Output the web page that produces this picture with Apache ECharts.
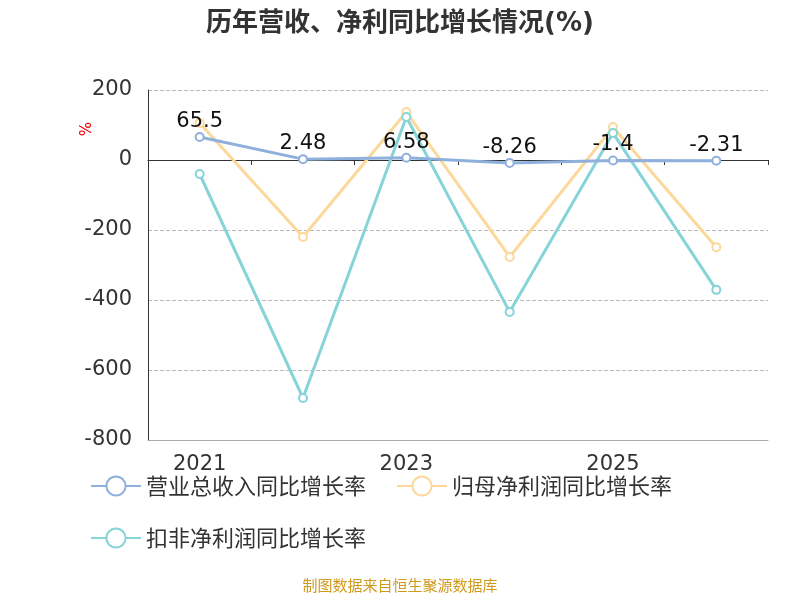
<!DOCTYPE html>
<html><head><meta charset="utf-8">
<script src="https://cdn.jsdelivr.net/npm/echarts@6/dist/echarts.min.js"></script>
<style>html,body{margin:0;padding:0}#c{width:800px;height:600px}</style>
</head><body><div id="c"></div>
<script>
const categories = ['2021','2022','2023','2024','2025','2026H1'];
const revenue = [65.5, 2.48, 6.58, -8.26, -1.4, -2.31];
const netProfit = [106, -220, 137, -277, 94, -249];
const deductedProfit = [-40, -680, 123, -434, 77, -371];
const yTicks = {min: -800, max: 200, interval: 200};

const chart = echarts.init(document.getElementById('c'));
const font = 'DejaVu Sans, Noto Sans CJK SC';
chart.setOption({
  textStyle: {fontFamily: font},
  title: {text: '历年营收、净利同比增长情况(%)', left: 'center', top: 6,
    textStyle: {fontSize: 26, fontWeight: 'bold', color: '#333', fontFamily: font}},
  graphic: [
    {type: 'text', left: 'center', top: 578,
      style: {text: '制图数据来自恒生聚源数据库', fill: '#d09a1c', fontSize: 15, fontFamily: 'Noto Sans CJK SC'}},
    {type: 'text', left: 80, top: 122, rotation: Math.PI / 2,
      style: {text: '%', fill: '#e00', fontSize: 15, fontFamily: font}}
  ],
  legend: {bottom: 46, left: 85, width: 660, itemWidth: 50, itemHeight: 24, itemGap: 30,
    textStyle: {fontSize: 22, color: '#333', fontFamily: 'Noto Sans CJK SC'},
    data: ['营业总收入同比增长率', '归母净利润同比增长率', '扣非净利润同比增长率']},
  grid: {left: 148, right: 32, top: 90, bottom: 160},
  xAxis: [
    {type: 'category', data: categories, axisLine: {onZero: true, lineStyle: {color: '#333'}},
      axisTick: {show: true, lineStyle: {color: '#333'}}, axisLabel: {show: false}},
    {type: 'category', data: categories, position: 'bottom', axisLine: {show: true, onZero: false, lineStyle: {color: '#aaa'}},
      axisTick: {show: false}, axisLabel: {fontSize: 21, color: '#333', margin: 14}}
  ],
  yAxis: {type: 'value', min: yTicks.min, max: yTicks.max, interval: yTicks.interval,
    axisLine: {show: true, lineStyle: {color: '#333'}}, axisTick: {show: false},
    axisLabel: {fontSize: 21, color: '#333', margin: 16},
    splitLine: {lineStyle: {type: 'dashed', color: '#bbb'}}},
  series: [
    {name: '营业总收入同比增长率', type: 'line', data: revenue, symbol: 'emptyCircle', symbolSize: 8,
      itemStyle: {color: '#8fb0dc'}, lineStyle: {width: 3}, z: 5,
      label: {show: true, position: 'top', fontSize: 21, color: '#111', distance: 0}},
    {name: '归母净利润同比增长率', type: 'line', data: netProfit, symbol: 'emptyCircle', symbolSize: 8,
      itemStyle: {color: '#fcd89a'}, lineStyle: {width: 3}},
    {name: '扣非净利润同比增长率', type: 'line', data: deductedProfit, symbol: 'emptyCircle', symbolSize: 8,
      itemStyle: {color: '#86d4d8'}, lineStyle: {width: 3}}
  ]
});
</script></body></html>
